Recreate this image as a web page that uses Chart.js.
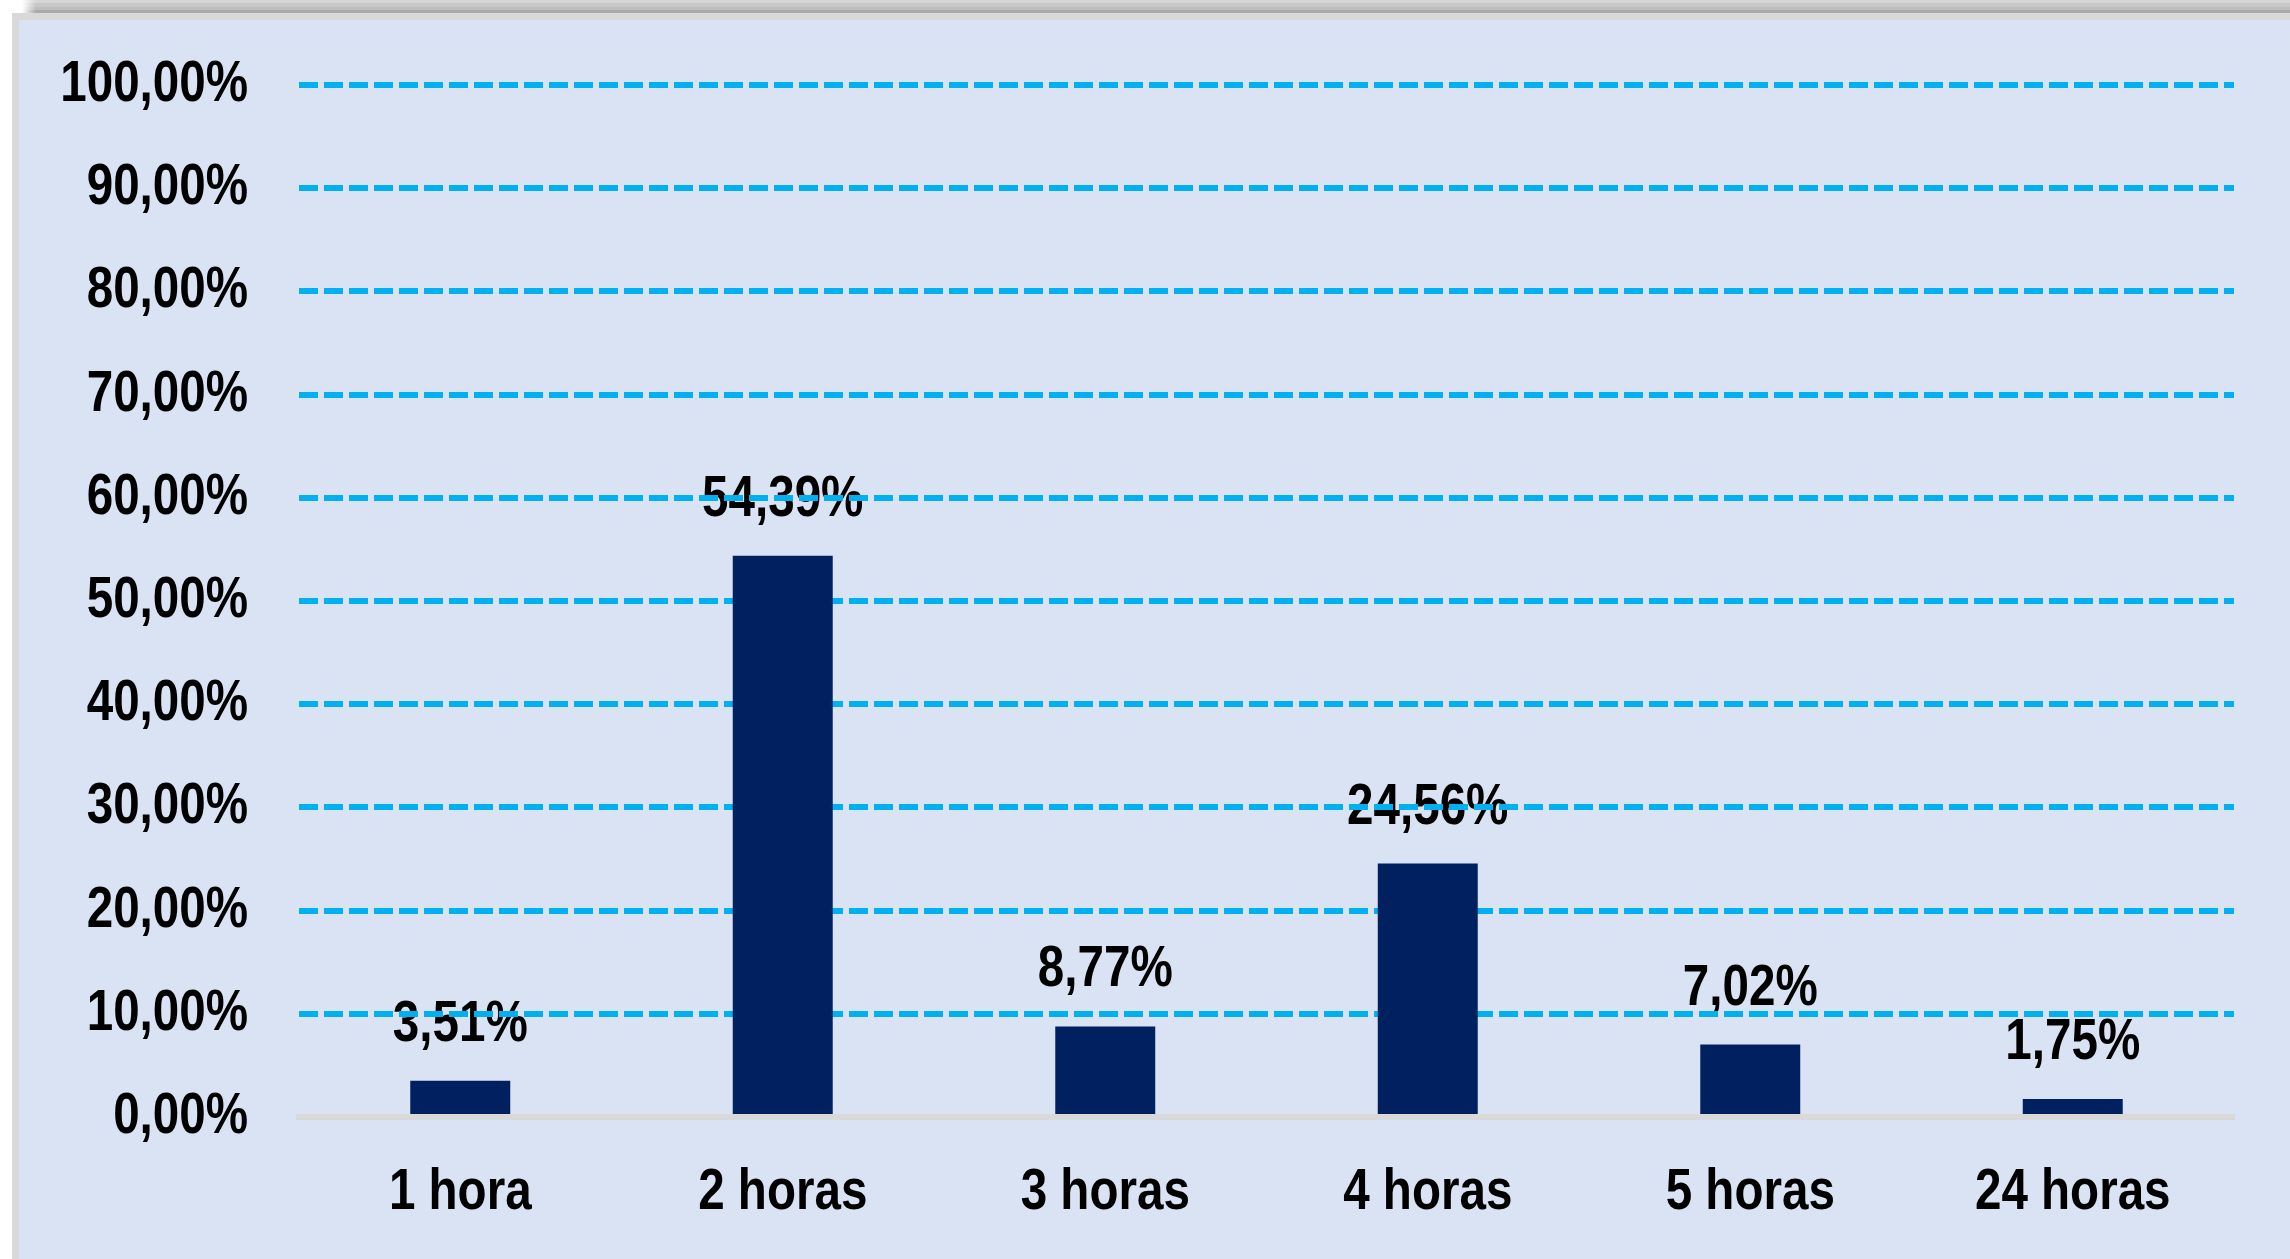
<!DOCTYPE html>
<html>
<head>
<meta charset="utf-8">
<script src="https://cdn.jsdelivr.net/npm/chart.js@4.4.1/dist/chart.umd.min.js"></script>
<style>
  html, body { margin: 0; padding: 0; background: #ffffff; width: 2290px; height: 1259px; overflow: hidden; }
  #shadow { position: absolute; left: 22px; top: 0; right: 0; height: 13px;
    background: linear-gradient(to bottom, #D6D6D6 0px, #D6D6D6 3px, #C8C8C8 3px, #C8C8C8 7px, #BDBDBD 7px, #BDBDBD 10px, #AAAAAA 10px, #AAAAAA 13px);
    -webkit-mask-image: linear-gradient(to right, transparent 0px, #000 14px); mask-image: linear-gradient(to right, transparent 0px, #000 14px); }
  #frame { position: absolute; left: 12px; top: 13px; right: 0; bottom: 0; background: #DAE3F3;
    border-left: 7px solid #D9D9D9; border-top: 7px solid #D9D9D9; }
  #c { position: absolute; left: 0; top: 0; }
</style>
</head>
<body>
<div id="shadow"></div>
<div id="frame"></div>
<canvas id="c" width="2290" height="1259"></canvas>
<script>
const categories = ["1 hora", "2 horas", "3 horas", "4 horas", "5 horas", "24 horas"];
const percentages = [3.51, 54.39, 8.77, 24.56, 7.02, 1.75];
const yTicks = [0, 10, 20, 30, 40, 50, 60, 70, 80, 90, 100];

const FONT = 'bold 58px "Liberation Sans", Arial, sans-serif';
const SQUEEZE = 0.82; // reference uses a narrow typeface
const fmt = v => v.toFixed(2).replace('.', ',') + '%';

function narrowText(ctx, text, x, y, align, baseline) {
  ctx.save();
  ctx.translate(x, y);
  ctx.scale(SQUEEZE, 1);
  ctx.font = FONT;
  ctx.fillStyle = '#000000';
  ctx.textAlign = align;
  ctx.textBaseline = baseline;
  ctx.fillText(text, 0, 0);
  ctx.restore();
}

const narrowLabels = {
  id: 'narrowLabels',
  beforeDraw(chart) {
    // value labels sit beneath the gridlines, as in the reference
    const ctx = chart.ctx;
    const meta = chart.getDatasetMeta(0);
    meta.data.forEach((bar, i) => {
      narrowText(ctx, fmt(chart.data.datasets[0].data[i]), bar.x, bar.y - 40, 'center', 'alphabetic');
    });
  },
  afterDraw(chart) {
    const ctx = chart.ctx;
    const xs = chart.scales.x, ys = chart.scales.y;
    ys.ticks.forEach(t => {
      narrowText(ctx, fmt(t.value), ys.right - 51, ys.getPixelForValue(t.value), 'right', 'middle');
    });
    chart.data.labels.forEach((lab, i) => {
      narrowText(ctx, lab, xs.getPixelForTick(i), xs.top + 92, 'center', 'alphabetic');
    });
  }
};

new Chart(document.getElementById('c'), {
  type: 'bar',
  data: {
    labels: categories,
    datasets: [{
      data: percentages,
      backgroundColor: '#002060',
      borderWidth: 0,
      categoryPercentage: 1.0,
      barPercentage: 0.31
    }]
  },
  options: {
    responsive: false,
    animation: false,
    devicePixelRatio: 1,
    layout: { padding: { top: 85, right: 56, bottom: 0, left: 0 } },
    plugins: { legend: { display: false }, tooltip: { enabled: false } },
    scales: {
      x: {
        grid: { display: false, drawTicks: false },
        border: { display: true, color: '#D9D9D9', width: 6, z: 1 },
        ticks: { display: false },
        afterFit(scale) { scale.height = 142; }
      },
      y: {
        min: 0, max: 100,
        afterBuildTicks(scale) { scale.ticks = yTicks.map(v => ({ value: v })); },
        grid: {
          drawTicks: false,
          lineWidth: 6,
          color: ctx => (ctx.tick && ctx.tick.value === 0) ? 'rgba(0,0,0,0)' : '#00B0F0'
        },
        border: { display: false, dash: [19, 6] },
        ticks: { display: false },
        afterFit(scale) { scale.width = 299; }
      }
    }
  },
  plugins: [narrowLabels]
});
</script>
</body>
</html>
